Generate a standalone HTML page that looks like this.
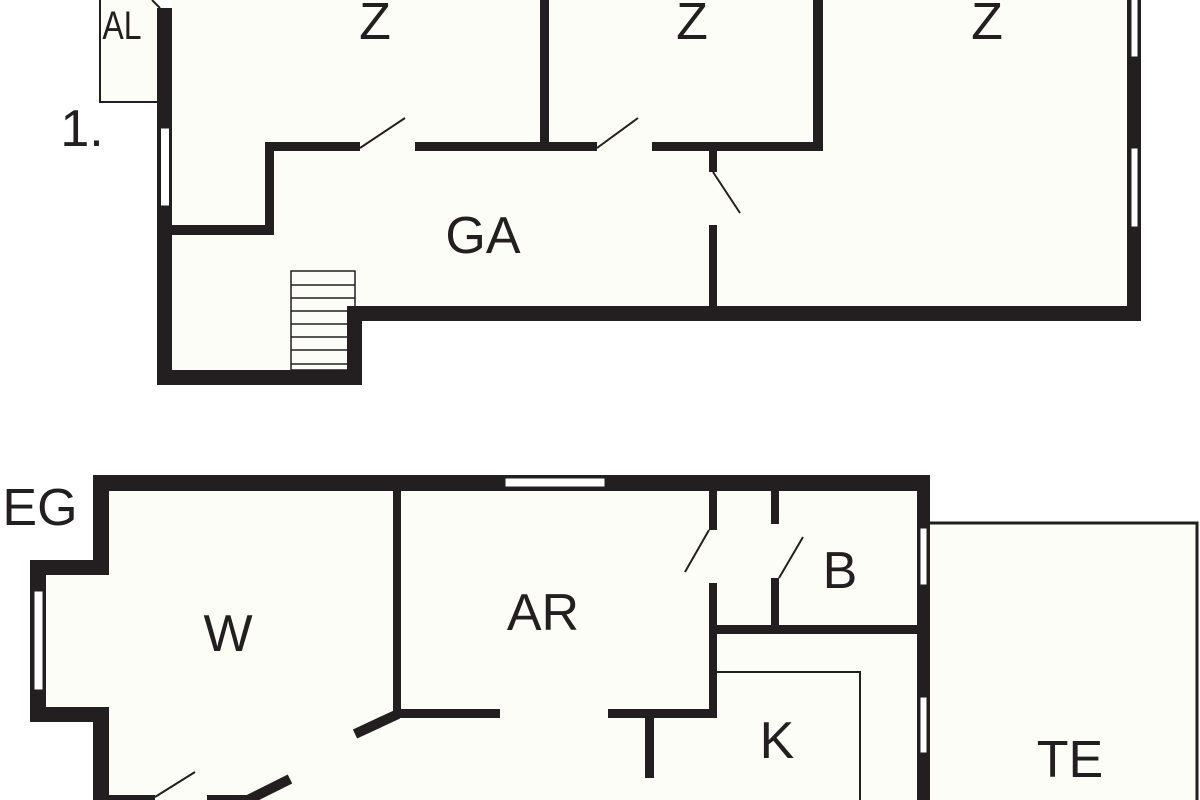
<!DOCTYPE html>
<html><head><meta charset="utf-8"><style>
html,body{margin:0;padding:0;background:#fff;}
svg{display:block;}
text{font-family:"Liberation Sans",sans-serif;fill:#231f20;text-anchor:middle;}
</style></head><body>
<svg width="1200" height="800" viewBox="0 0 1200 800" xmlns="http://www.w3.org/2000/svg">
<g fill="#fdfdf8">
<polygon points="172,0 1127,0 1127,306 347,306 347,370 172,370"/>
<rect x="100" y="0" width="57" height="102"/>
<polygon points="109,490 917,490 917,800 109,800 109,722 46,722 46,575 109,575"/>
<rect x="930" y="523" width="267" height="277"/>
</g>
<g fill="#231f20">
<!-- upper floor -->
<rect x="157" y="8" width="15" height="377"/>
<rect x="157" y="370" width="205" height="15"/>
<rect x="347" y="306" width="15" height="79"/>
<rect x="347" y="306" width="794" height="15"/>
<rect x="1127" y="0" width="14" height="321"/>
<rect x="172" y="225" width="102" height="10"/>
<rect x="265" y="142" width="9" height="93"/>
<rect x="265" y="142" width="95" height="9"/>
<rect x="415" y="142" width="134" height="9"/>
<rect x="540" y="0" width="9" height="151"/>
<rect x="549" y="142" width="48" height="9"/>
<rect x="652" y="142" width="171" height="9"/>
<rect x="813" y="0" width="10" height="151"/>
<rect x="709" y="151" width="8" height="21"/>
<rect x="709" y="225" width="8" height="81"/>
<!-- lower floor -->
<rect x="93" y="475" width="837" height="16"/>
<rect x="93" y="475" width="16" height="100"/>
<rect x="30" y="560" width="79" height="15"/>
<rect x="30" y="560" width="16" height="162"/>
<rect x="30" y="707" width="79" height="15"/>
<rect x="93" y="707" width="16" height="93"/>
<rect x="109" y="795" width="46" height="5"/>
<rect x="207" y="795" width="41" height="5"/>
<rect x="393" y="490" width="8" height="225"/>
<rect x="398" y="709" width="102" height="9"/>
<rect x="608" y="709" width="109" height="9"/>
<rect x="645" y="718" width="9" height="60"/>
<rect x="709" y="490" width="8" height="40"/>
<rect x="709" y="583" width="8" height="135"/>
<rect x="771" y="490" width="8" height="34"/>
<rect x="771" y="578" width="8" height="56"/>
<rect x="717" y="625" width="200" height="9"/>
<rect x="917" y="475" width="13" height="325"/>
</g>
<g stroke="#231f20" stroke-linecap="butt">
<line x1="248" y1="800" x2="290" y2="779" stroke-width="10"/>
<line x1="355" y1="734" x2="398" y2="714" stroke-width="10"/>
</g>
<!-- windows -->
<g fill="#fff" stroke="#231f20" stroke-width="1">
<rect x="160.5" y="128" width="9" height="78"/>
<rect x="1131" y="-2" width="7" height="59"/>
<rect x="1131" y="148" width="7" height="79"/>
<rect x="34" y="591" width="9" height="99"/>
<rect x="505" y="478" width="100" height="9"/>
<rect x="920" y="528" width="7" height="57"/>
<rect x="920" y="697" width="7" height="56"/>
</g>
<!-- thin lines -->
<g stroke="#231f20" fill="none" stroke-width="2">
<polyline points="157,102 100,102 100,0"/>
<line x1="152" y1="0" x2="160" y2="8"/>
<line x1="360" y1="148" x2="405" y2="118"/>
<line x1="597" y1="148" x2="638" y2="118"/>
<line x1="713" y1="172" x2="740" y2="213"/>
<line x1="155" y1="797" x2="195" y2="772"/>
<line x1="709" y1="530" x2="685" y2="572"/>
<line x1="779" y1="578" x2="803" y2="537"/>
<polyline points="717,672 860,672 860,800"/>
<polyline points="930,523 1197,523 1197,800" stroke-width="3"/>
</g>
<!-- stairs -->
<g stroke="#231f20" stroke-width="1.5" fill="none">
<rect x="291" y="271" width="64" height="99"/>
<line x1="291" y1="285" x2="355" y2="285"/>
<line x1="291" y1="298" x2="355" y2="298"/>
<line x1="291" y1="311" x2="347" y2="311"/>
<line x1="291" y1="324" x2="347" y2="324"/>
<line x1="291" y1="337" x2="347" y2="337"/>
<line x1="291" y1="350" x2="347" y2="350"/>
<line x1="291" y1="364" x2="347" y2="364"/>
</g>
<!-- labels -->
<g font-size="52">
<text x="375" y="39">Z</text>
<text x="692" y="39">Z</text>
<text x="987" y="39">Z</text>
<text x="483" y="253">GA</text>
<text x="82" y="146">1.</text>
<text x="40" y="525">EG</text>
<text x="228" y="651">W</text>
<text x="543" y="630">AR</text>
<text x="840" y="588">B</text>
<text x="777" y="758">K</text>
<text x="1070" y="777">TE</text>
</g>
<text x="122" y="39" font-size="40" transform="translate(122 0) scale(0.8 1) translate(-122 0)">AL</text>
</svg>
</body></html>
